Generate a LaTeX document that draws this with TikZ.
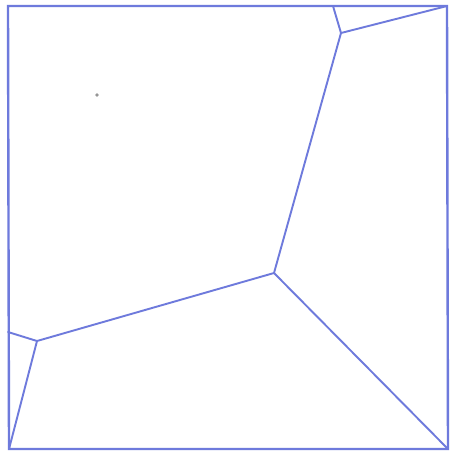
\documentclass[tikz,border=0pt]{standalone}
\definecolor{edge}{RGB}{110,122,220}
\definecolor{dotc}{RGB}{150,150,150}
\begin{document}
\begin{tikzpicture}[x=1pt,y=-1pt,
  cell/.style={draw=edge,line width=1.9pt,line join=round,line cap=round},
  border/.style={draw=edge,line width=2.4pt}]
\useasboundingbox[fill=white] (0,0) rectangle (451,456);
\coordinate (tl) at (8,6);
\coordinate (tr) at (447,6);
\coordinate (br) at (448,449);
\coordinate (bl) at (9,449);
\coordinate (t1) at (333,6);
\coordinate (v1) at (341,33);
\coordinate (c) at (274,273);
\coordinate (l1) at (8,332);
\coordinate (v2) at (37,341);
\draw[border] (tl) -- (tr) -- (br) -- (bl) -- cycle;
\draw[cell] (t1) -- (v1) -- (tr);
\draw[cell] (v1) -- (c) -- (br);
\draw[cell] (c) -- (v2) -- (l1);
\draw[cell] (v2) -- (bl);
\fill[dotc] (97,95) circle (1.8);
\end{tikzpicture}
\end{document}
